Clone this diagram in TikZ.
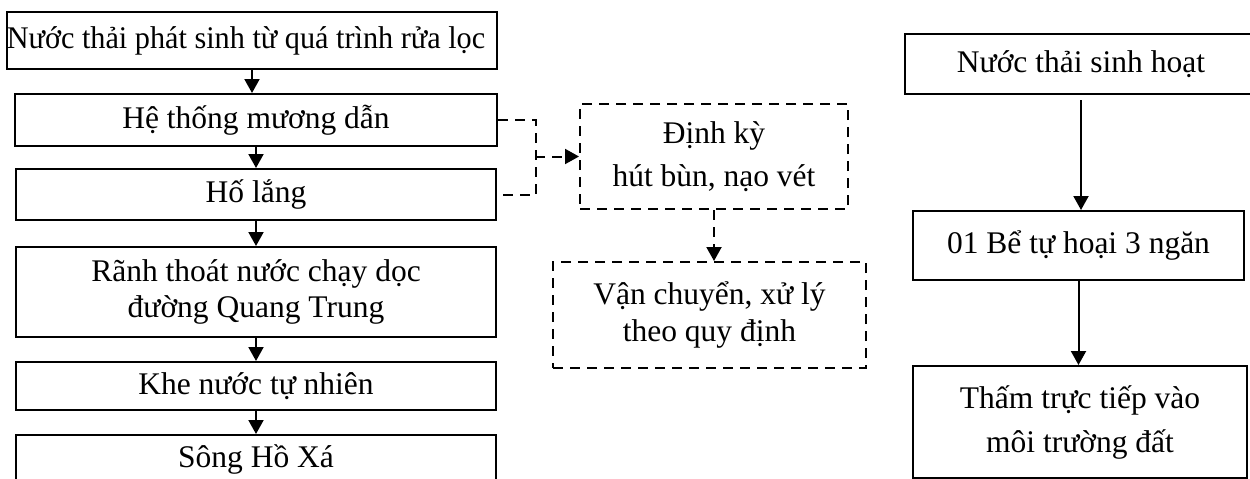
\documentclass[tikz,border=0pt]{standalone}
\usepackage{fontspec}
\setmainfont{Liberation Serif}
\usetikzlibrary{arrows.meta}
\begin{document}
\begin{tikzpicture}[x=1pt,y=-1pt,
 box/.style={draw, line width=2pt, inner sep=0pt, align=center, font=\fontsize{31.5}{36}\selectfont},
 dbox/.style={box, dash pattern=on 10pt off 7pt},
 arr/.style={line width=2pt, -{Triangle[width=15pt,length=14pt]}},
 dline/.style={line width=2pt, dash pattern=on 10pt off 7pt},
 darr/.style={arr, dash pattern=on 10pt off 7pt}]
\useasboundingbox (0,0) rectangle (1250,479);
% left column
\node[box, minimum width=490, minimum height=57, font=\fontsize{31.5}{36}\selectfont\addfontfeature{FakeStretch=0.96}] (b1) at (252,40.5) {Nước thải phát sinh từ quá trình rửa lọc\hspace*{12pt}};
\node[box, minimum width=482, minimum height=52] (b2) at (256,120) {Hệ thống mương dẫn};
\node[box, minimum width=480, minimum height=51] (b3) at (256,194.5) {Hố lắng};
\node[box, minimum width=480, minimum height=90] (b4) at (256,292) {Rãnh thoát nước chạy dọc\\đường Quang Trung};
\node[box, minimum width=480, minimum height=48] (b5) at (256,386) {Khe nước tự nhiên};
\node[box, minimum width=480, minimum height=48] (b6) at (256,459) {Sông Hồ Xá};
\draw[arr] (b1.south) -- (b1.south |- b2.north);
\draw[arr] (b2.south) -- (b2.south |- b3.north);
\draw[arr] (b3.south) -- (b3.south |- b4.north);
\draw[arr] (b4.south) -- (b4.south |- b5.north);
\draw[arr] (b5.south) -- (b5.south |- b6.north);
% middle
\node[dbox, minimum width=268, minimum height=105] (dk) at (714,156.5) {Định kỳ\\[7pt]hút bùn, nạo vét};
\node[dbox, minimum width=313, minimum height=106] (vc) at (709.5,315) {Vận chuyển, xử lý\\[1pt]theo quy định};
\draw[dline] (b2.east) -- ++(38,0) |- (b3.east);
\coordinate (jn) at (535,156.5);
\draw[darr] (jn) -- (dk.west);
\draw[darr] (dk.south) -- (dk.south |- vc.north);
% right column
\node[box, minimum width=352, minimum height=60] (r1) at (1081,64) {Nước thải sinh hoạt};
\node[box, minimum width=331, minimum height=69] (r2) at (1078.5,245.5) {01 Bể tự hoại 3 ngăn};
\node[box, minimum width=334, minimum height=112] (r3) at (1080,422) {Thấm trực tiếp vào\\[8pt]môi trường đất};
\draw[arr] ([yshift=-5pt]r1.south) -- (r1.south |- r2.north);
\draw[arr] (r2.south) -- (r2.south |- r3.north);
\end{tikzpicture}
\end{document}
